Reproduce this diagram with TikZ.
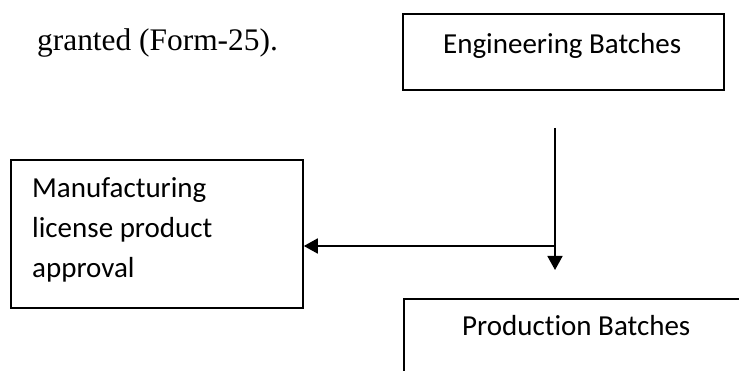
\documentclass[tikz,border=0pt]{standalone}
\usepackage{fontspec}
\setmainfont{Liberation Serif}
\newfontfamily\boxfont[Ligatures=NoCommon]{Carlito}
\usetikzlibrary{arrows.meta}
\begin{document}
\begin{tikzpicture}[x=1pt,y=-1pt,
  boxshape/.style={draw, line width=1.8pt, rectangle, inner sep=0pt, anchor=north west},
  boxtext/.style={inner sep=0pt, anchor=base west, font=\boxfont\fontsize{29}{40}\selectfont},
  bodytext/.style={inner sep=0pt, anchor=base west, font=\fontsize{31.4}{40}\selectfont},
  flow/.style={line width=1.8pt, -{Triangle[length=14pt,width=15pt]}}]
\useasboundingbox (0,0) rectangle (739,371);
\clip (0,0) rectangle (739,371);
% body text
\node[bodytext] (granted) at (37,51) {granted (Form-25).};
% boxes
\node[boxshape, minimum width=321pt, minimum height=76pt] (eng) at (402,13) {};
\node[boxshape, minimum width=292pt, minimum height=148pt] (mfg) at (10,159) {};
\node[boxshape, minimum width=400pt, minimum height=120pt] (prod) at (403,298) {};
% box texts
\node[boxtext] (engtxt) at (443,54) {Engineering Batches};
\node[boxtext] (mfg1) at (32,198) {Manufacturing};
\node[boxtext] (mfg2) at (32,238) {license product};
\node[boxtext] (mfg3) at (32,278) {approval};
\node[boxtext] (prodtxt) at (462,335) {Production Batches};
% connectors
\coordinate (vstart) at (555,128);
\coordinate (vend) at (555,270);
\coordinate (junc) at (555,246);
\draw[flow] (vstart) -- (vend);
\draw[flow] (junc) -- (junc -| mfg.east);
\end{tikzpicture}
\end{document}
